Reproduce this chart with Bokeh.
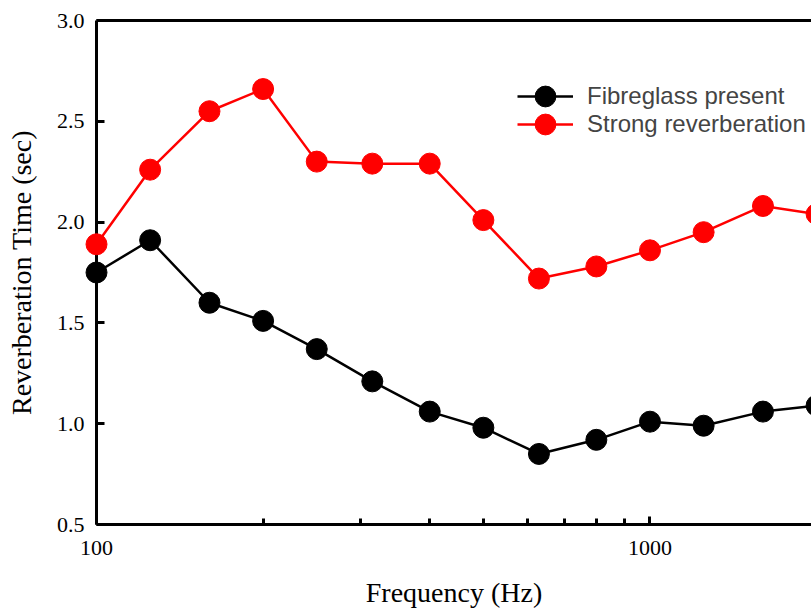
from bokeh.plotting import figure
from bokeh.models import (Range1d, FixedTicker, PrintfTickFormatter, Legend,
                          LegendItem, LogAxis)
from bokeh.embed import file_html
from bokeh.resources import INLINE

# ---- data -------------------------------------------------------------
freqs = [100, 125, 160, 200, 250, 315, 400, 500, 630, 800, 1000, 1250, 1600, 2000]
fibreglass = [1.75, 1.91, 1.60, 1.51, 1.37, 1.21, 1.06, 0.98, 0.85, 0.92, 1.01, 0.99, 1.06, 1.09]
strong = [1.89, 2.26, 2.55, 2.66, 2.30, 2.29, 2.29, 2.01, 1.72, 1.78, 1.86, 1.95, 2.08, 2.04]

x_major_ticks = [100, 1000]
x_minor_ticks = [200, 300, 400, 500, 600, 700, 800, 900, 2000]
y_ticks = [0.5, 1.0, 1.5, 2.0, 2.5, 3.0]

series_names = ["Fibreglass present", "Strong reverberation"]
series_colors = ["black", "red"]

# ---- figure -----------------------------------------------------------
p = figure(width=811, height=610, x_axis_type="log",
           x_range=Range1d(100, 1958), y_range=Range1d(0.5, 3.0),
           output_backend="svg", toolbar_location=None,
           min_border_left=96, min_border_right=0,
           min_border_top=20, min_border_bottom=86)
p.outline_line_color = None
p.xgrid.visible = False
p.ygrid.visible = False
p.background_fill_color = "white"
p.border_fill_color = "white"

serif = "Liberation Serif"

# x axis
xa = p.xaxis[0]
xa.ticker = FixedTicker(ticks=x_major_ticks, minor_ticks=x_minor_ticks)
xa.formatter = PrintfTickFormatter(format="%d")
xa.axis_label = "Frequency (Hz)"
# y axis
ya = p.yaxis[0]
ya.ticker = FixedTicker(ticks=y_ticks)
ya.formatter = PrintfTickFormatter(format="%.1f")
ya.axis_label = "Reverberation Time (sec)"
ya.minor_tick_line_color = None

for ax in (xa, ya):
    ax.axis_line_width = 3
    ax.axis_line_color = "black"
    ax.major_tick_line_width = 3
    ax.major_tick_line_color = "black"
    ax.major_tick_in = 8
    ax.major_tick_out = 0
    ax.minor_tick_line_width = 3
    ax.minor_tick_in = 6
    ax.minor_tick_out = 0
    ax.major_label_text_font = serif
    ax.major_label_text_font_size = "22px"
    ax.major_label_text_color = "black"
    ax.axis_label_text_font = serif
    ax.axis_label_text_font_size = "28px"
    ax.axis_label_text_font_style = "normal"
    ax.axis_label_text_color = "black"

xa.major_label_standoff = 16
xa.axis_label_standoff = 19
ya.major_label_standoff = 12
ya.axis_label_standoff = 17

# top frame line (no ticks, no labels)
top = LogAxis(ticker=FixedTicker(ticks=[], minor_ticks=[]),
              axis_line_width=3, axis_line_color="black",
              major_tick_line_color=None, minor_tick_line_color=None)
p.add_layout(top, "above")

# ---- series -----------------------------------------------------------
legend_bottoms = [402, 374]
for vals, name, col, lb in zip([fibreglass, strong], series_names,
                               series_colors, legend_bottoms):
    ln = p.line(freqs, vals, line_color=col, line_width=2.5, level="overlay")
    sc = p.scatter(freqs, vals, size=21, fill_color=col, line_color=col,
                   level="overlay")
    lg = Legend(items=[LegendItem(label=name, renderers=[ln, sc])],
                location=(421, lb),
                label_text_font="Liberation Sans", label_text_font_size="24px",
                glyph_width=56, glyph_height=52, label_height=52,
                spacing=0, padding=0, margin=0, label_standoff=14,
                border_line_color=None, background_fill_alpha=0)
    p.add_layout(lg)

open("out.html", "w").write(file_html(p, INLINE))
